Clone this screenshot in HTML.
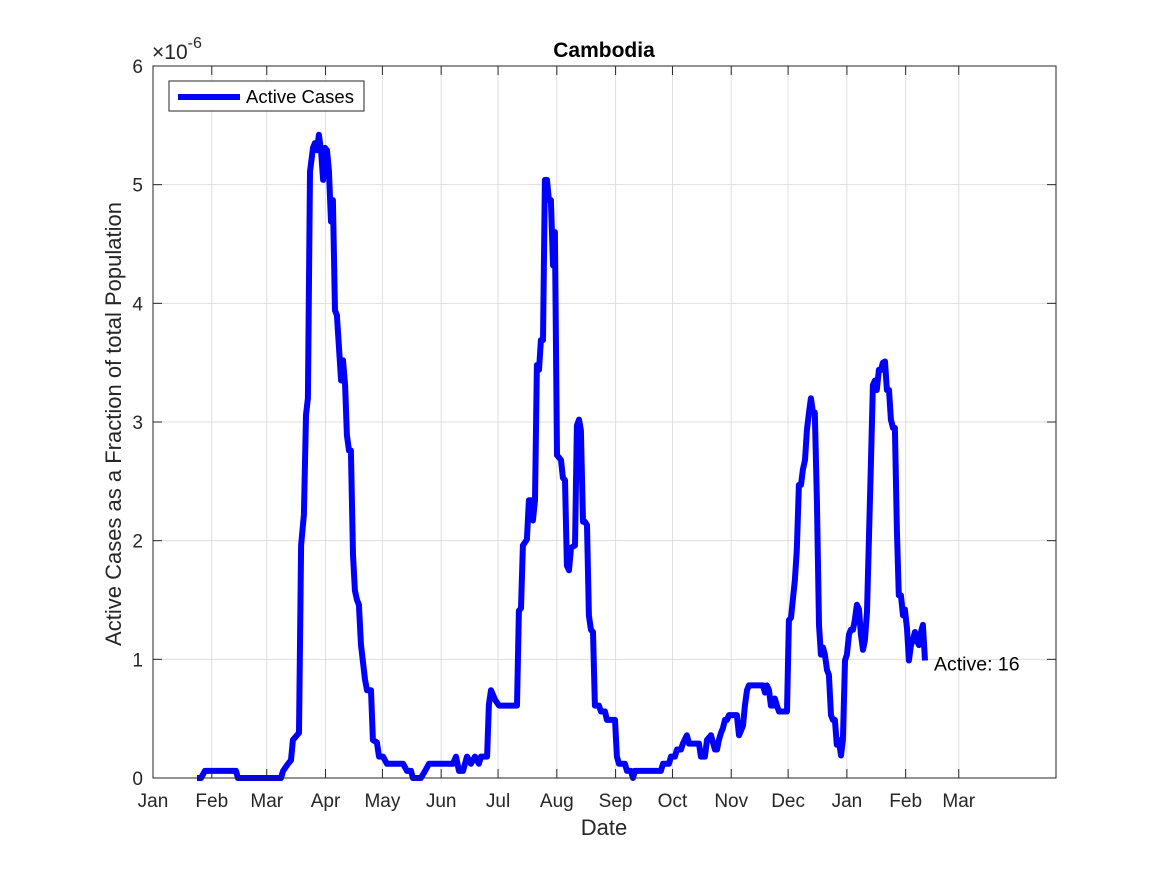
<!DOCTYPE html>
<html><head><meta charset="utf-8"><style>
html,body{margin:0;padding:0;background:#fff;}
svg text{font-family:"Liberation Sans",Arial,sans-serif;}
</style></head><body>
<svg id="chart" width="1167" height="875" viewBox="0 0 1167 875" xmlns="http://www.w3.org/2000/svg">
<rect x="0" y="0" width="1167" height="875" fill="#fff"/>
<rect x="153" y="66" width="903" height="712" fill="#fff"/>
<g id="grid"></g>
<g id="series"></g>
<rect x="153" y="66" width="903" height="712" fill="none" stroke="#262626" stroke-width="1"/>
<g id="ticks"></g>
<text x="604" y="57" text-anchor="middle" font-size="21" font-weight="bold" fill="#000">Cambodia</text>
<text x="604" y="835" text-anchor="middle" font-size="22" fill="#262626">Date</text>
<text transform="translate(121,424) rotate(-90)" text-anchor="middle" font-size="22" fill="#262626">Active Cases as a Fraction of total Population</text>
<text x="152" y="59" font-size="21" fill="#262626">×10<tspan dy="-11" font-size="16">-6</tspan></text>
<g>
<rect x="169" y="81" width="195" height="30" fill="#fff" stroke="#262626" stroke-width="1"/>
<line x1="178" y1="97" x2="240" y2="97" stroke="#0000ff" stroke-width="6"/>
<text x="246" y="103" font-size="18.5" fill="#000">Active Cases</text>
</g>
<text id="endlabel" font-size="19.5" fill="#000">Active: 16</text>
</svg>
<script>
const monthLabels=["Jan","Feb","Mar","Apr","May","Jun","Jul","Aug","Sep","Oct","Nov","Dec","Jan","Feb","Mar"];
const monthDays=[0,31,60,91,121,152,182,213,244,274,305,335,366,397,425];
const yTicks=[0,1,2,3,4,5,6];
const days=[23.2,25.3,27.4,43.8,44.8,67.5,68.6,71.2,72.8,73.8,75.9,77,78.1,79.6,80.7,81.7,82.8,84.4,85.4,86.5,87.5,88.6,89.7,90.7,91.8,92.8,93.9,94.9,96,97,99.2,100.2,101.3,102.3,103.4,104.4,105.5,106.5,107.6,108.6,109.7,111.8,112.9,115,116,118.1,119.2,121.3,123.4,131.9,134,136.1,137.1,141.3,143.5,145.6,158.2,159.8,161.4,163.5,165.6,167.7,169.8,171.9,173,176.2,177.2,178.3,180.4,182.5,192,193,194.1,195.1,197.2,198.3,199.4,200.4,201.5,202.5,203.6,204.6,205.7,206.7,207.8,208.8,209.9,211,212,213.1,215.2,216.2,217.3,218.3,219.4,220.5,222.6,223.6,224.7,225.7,226.8,227.8,228.9,229.9,231,232.1,233.1,235.2,236.3,238.4,239.4,243.7,244.7,245.8,248.9,250,252.1,253.2,254.2,267.9,269,272.1,273.2,275.3,276.4,278.5,279.5,281.6,282.7,288,289,291.1,292.2,294.3,296.4,297.5,298.5,299.6,300.6,301.7,302.7,303.8,308,309.1,311.2,312.2,313.3,314.3,315.4,321.7,322.8,323.8,324.9,325.9,327,328,329.1,330.2,334.4,335.4,336.5,338.6,339.6,340.7,341.8,342.8,343.9,344.9,346,347,348.1,349.1,350.2,351.3,352.3,353.4,354.4,355.5,356.5,357.6,358.6,359.7,360.7,361.8,362.9,363.9,365,366,367.1,368.1,369.2,370.2,371.3,372.4,373.4,374.5,375.5,376.6,377.6,378.7,379.7,380.8,381.8,382.9,384,385,386.1,387.1,388.2,389.2,390.3,391.3,392.4,393.4,394.5,395.6,396.6,397.7,398.7,399.8,400.8,401.9,402.9,404,405.1,406.1,407.2];
const activeFrac=[0,0,0.06,0.06,0,0,0.06,0.12,0.15,0.32,0.36,0.38,1.96,2.22,3.06,3.2,5.11,5.31,5.35,5.29,5.42,5.29,5.04,5.31,5.29,5.12,4.69,4.87,3.94,3.9,3.35,3.52,3.31,2.89,2.76,2.76,1.88,1.58,1.5,1.46,1.12,0.83,0.74,0.74,0.32,0.3,0.18,0.18,0.12,0.12,0.06,0.06,0,0,0.06,0.12,0.12,0.18,0.06,0.06,0.18,0.12,0.18,0.12,0.18,0.18,0.62,0.74,0.66,0.61,0.61,1.41,1.43,1.96,2.01,2.34,2.34,2.17,2.34,3.48,3.44,3.69,3.69,5.04,5.04,4.87,4.87,4.32,4.6,2.72,2.68,2.53,2.51,1.79,1.75,1.94,1.96,2.97,3.02,2.93,2.16,2.16,2.13,1.37,1.25,1.23,0.61,0.61,0.56,0.56,0.49,0.49,0.18,0.12,0.12,0.06,0.06,0,0.06,0.06,0.12,0.12,0.18,0.18,0.24,0.24,0.29,0.36,0.29,0.29,0.18,0.18,0.32,0.36,0.24,0.24,0.32,0.38,0.42,0.49,0.49,0.53,0.53,0.36,0.44,0.61,0.74,0.78,0.78,0.78,0.72,0.78,0.74,0.61,0.61,0.67,0.61,0.56,0.56,1.33,1.35,1.67,1.92,2.47,2.47,2.6,2.68,2.93,3.08,3.2,3.08,3.08,2.34,1.29,1.04,1.1,1.04,0.91,0.87,0.53,0.49,0.49,0.28,0.32,0.19,0.32,0.99,1.04,1.21,1.25,1.25,1.33,1.46,1.42,1.21,1.08,1.16,1.4,2.01,2.68,3.31,3.35,3.27,3.44,3.44,3.5,3.51,3.27,3.27,3.02,2.95,2.95,2.09,1.54,1.54,1.37,1.42,1.26,0.99,1.12,1.16,1.23,1.16,1.12,1.23,1.29,0.99];
const NS="http://www.w3.org/2000/svg";
const L=153,R=1056,T=66,B=778,XMAX=476.3,YMAX=6;
function xs(d){return L+d/XMAX*(R-L);}
function ys(v){return B-v/YMAX*(B-T);}
const grid=document.getElementById('grid'),ticks=document.getElementById('ticks'),series=document.getElementById('series');
function mk(tag,attrs,parent){const e=document.createElementNS(NS,tag);for(const k in attrs)e.setAttribute(k,attrs[k]);parent.appendChild(e);return e;}
monthDays.forEach((d,i)=>{
  const x=xs(d);
  const g=mk('line',{x1:x,y1:T,x2:x,y2:B,stroke:'#dfdfdf','stroke-width':1},grid);
  
  
  const t1=mk('line',{x1:x,y1:B,x2:x,y2:B-9,stroke:'#262626','stroke-width':1},ticks);
  
  
  const t2=mk('line',{x1:x,y1:T,x2:x,y2:T+9,stroke:'#262626','stroke-width':1},ticks);
  
  
  const lb=mk('text',{x:x,y:807,'text-anchor':'middle','font-size':19,fill:'#262626'},ticks);
  lb.textContent=monthLabels[i];
  
  
});
yTicks.forEach(v=>{
  const y=ys(v);
  const g=mk('line',{x1:L,y1:y,x2:R,y2:y,stroke:'#dfdfdf','stroke-width':1},grid);
  
  
  const t1=mk('line',{x1:L,y1:y,x2:L+9,y2:y,stroke:'#262626','stroke-width':1},ticks);
  
  
  const t2=mk('line',{x1:R,y1:y,x2:R-9,y2:y,stroke:'#262626','stroke-width':1},ticks);
  
  
  const lb=mk('text',{x:L-10,y:y+7,'text-anchor':'end','font-size':19,fill:'#262626'},ticks);
  lb.textContent=v;
  
  
});
const pts=days.map((d,i)=>xs(d).toFixed(1)+','+ys(activeFrac[i]).toFixed(1)).join(' ');
const pl=mk('polyline',{points:pts,fill:'none',stroke:'#0000ff','stroke-width':6,'stroke-linejoin':'round'},series);


const lastI=days.length-1;
const el=document.getElementById('endlabel');
el.setAttribute('x',xs(days[lastI])+9);
el.setAttribute('y',ys(activeFrac[lastI])+10);
</script>
</body></html>
